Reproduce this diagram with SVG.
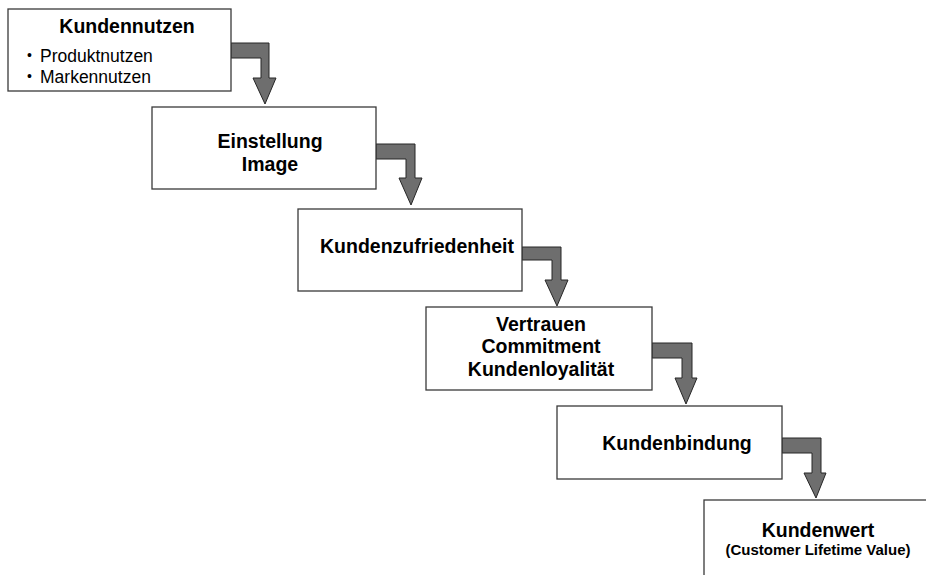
<svg xmlns="http://www.w3.org/2000/svg" width="926" height="575" viewBox="0 0 926 575">
<style>
.box{fill:#ffffff;stroke:#3a3a3a;stroke-width:1.3}
.arr{fill:#6e6e6e;stroke:#262626;stroke-width:1;stroke-linejoin:miter}
.t{font-family:"Liberation Sans",Arial,sans-serif;font-weight:bold;font-size:19.5px;fill:#000;text-anchor:middle}
.s{font-family:"Liberation Sans",Arial,sans-serif;font-weight:bold;font-size:15px;fill:#000;text-anchor:middle}
.r{font-family:"Liberation Sans",Arial,sans-serif;font-size:17.5px;fill:#000}
.b{font-family:"Liberation Sans",Arial,sans-serif;font-size:14px;fill:#000}
</style>
<rect width="926" height="575" fill="#ffffff"/>
<g id="connectors">
<path class="arr" d="M231,43 H269 V78 H276 L265,104 L253,78 H261 V58 H231 Z"/>
<path class="arr" d="M376,144 H415 V178 H422 L411,205 L399,178 H406 V159 H376 Z"/>
<path class="arr" d="M522,247 H561 V280 H568 L557,306 L545,280 H552 V260 H522 Z"/>
<path class="arr" d="M652,343 H692 V378 H697 L686,404 L675,378 H682 V358 H652 Z"/>
<path class="arr" d="M782,438 H821 V473 H826 L816,498 L804,473 H812 V453 H782 Z"/>
</g>
<g id="n1">
<rect class="box" x="8" y="9" width="223" height="82"/>
<text class="t" x="127" y="33">Kundennutzen</text>
<text class="b" x="27" y="60">•</text>
<text class="r" x="40" y="62">Produktnutzen</text>
<text class="b" x="27" y="81">•</text>
<text class="r" x="40" y="83">Markennutzen</text>
</g>
<g id="n2">
<rect class="box" x="152" y="107" width="224" height="82"/>
<text class="t" x="270" y="148">Einstellung</text>
<text class="t" x="270" y="171">Image</text>
</g>
<g id="n3">
<rect class="box" x="298" y="209" width="224" height="82"/>
<text class="t" x="417" y="253">Kundenzufriedenheit</text>
</g>
<g id="n4">
<rect class="box" x="426" y="307" width="226" height="83"/>
<text class="t" x="541" y="331">Vertrauen</text>
<text class="t" x="541" y="353">Commitment</text>
<text class="t" x="541" y="376">Kundenloyalität</text>
</g>
<g id="n5">
<rect class="box" x="557" y="406" width="225" height="73"/>
<text class="t" x="677" y="450">Kundenbindung</text>
</g>
<g id="n6">
<rect class="box" x="704" y="500" width="260" height="120"/>
<text class="t" x="818" y="537">Kundenwert</text>
<text class="s" x="818" y="555">(Customer Lifetime Value)</text>
</g>
</svg>
